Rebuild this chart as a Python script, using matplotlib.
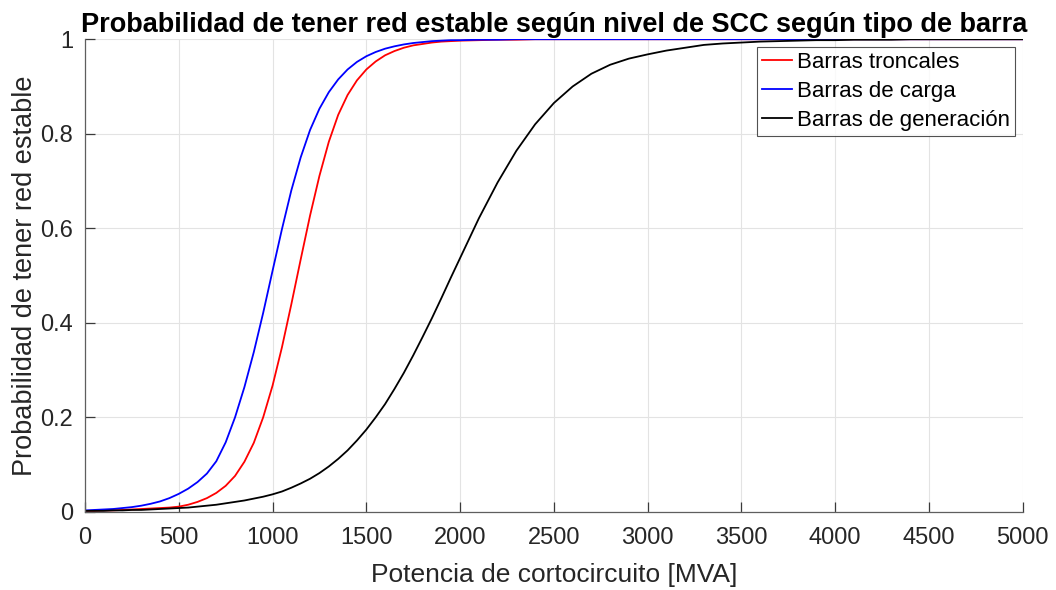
import numpy as np
import matplotlib.pyplot as plt

# Potencia de cortocircuito [MVA]
scc = [0, 50, 100, 150, 200, 250, 300, 350, 400, 450,
       500, 550, 600, 650, 700, 750, 800, 850, 900, 950,
       1000, 1050, 1100, 1150, 1200, 1250, 1300, 1350, 1400, 1450,
       1500, 1550, 1600, 1650, 1700, 1750, 1800, 1850, 1900, 1950,
       2000, 2100, 2200, 2300, 2400, 2500, 2600, 2700, 2800, 2900,
       3000, 3100, 3200, 3300, 3400, 3500, 3600, 3700, 3800, 3900,
       4000, 4100, 4200, 4300, 4400, 4500, 4600, 4700, 4800, 4900,
       5000]

# Probabilidad de red estable por tipo de barra
p_troncales = [0.002, 0.002, 0.003, 0.003, 0.004, 0.005, 0.006, 0.007, 0.008, 0.009,
               0.011, 0.015, 0.021, 0.029, 0.040, 0.055, 0.076, 0.106, 0.146, 0.200,
               0.267, 0.348, 0.439, 0.534, 0.627, 0.711, 0.783, 0.840, 0.882, 0.913,
               0.936, 0.953, 0.966, 0.975, 0.982, 0.987, 0.990, 0.993, 0.995, 0.996,
               0.997, 0.998, 0.999, 0.999, 1.000, 1.000, 1.000, 1.000, 1.000, 1.000,
               1.000, 1.000, 1.000, 1.000, 1.000, 1.000, 1.000, 1.000, 1.000, 1.000,
               1.000, 1.000, 1.000, 1.000, 1.000, 1.000, 1.000, 1.000, 1.000, 1.000,
               1.000]

p_carga = [0.003, 0.004, 0.005, 0.006, 0.008, 0.010, 0.013, 0.017, 0.022, 0.029,
           0.038, 0.049, 0.063, 0.081, 0.107, 0.147, 0.200, 0.264, 0.338, 0.421,
           0.510, 0.598, 0.680, 0.750, 0.808, 0.853, 0.888, 0.915, 0.936, 0.952,
           0.964, 0.973, 0.980, 0.985, 0.989, 0.992, 0.994, 0.996, 0.997, 0.998,
           0.998, 0.999, 0.999, 1.000, 1.000, 1.000, 1.000, 1.000, 1.000, 1.000,
           1.000, 1.000, 1.000, 1.000, 1.000, 1.000, 1.000, 1.000, 1.000, 1.000,
           1.000, 1.000, 1.000, 1.000, 1.000, 1.000, 1.000, 1.000, 1.000, 1.000,
           1.000]

p_generacion = [0.002, 0.002, 0.002, 0.003, 0.003, 0.004, 0.004, 0.005, 0.006, 0.007,
                0.008, 0.009, 0.011, 0.013, 0.015, 0.018, 0.021, 0.024, 0.028, 0.032,
                0.037, 0.043, 0.051, 0.060, 0.070, 0.082, 0.096, 0.112, 0.130, 0.151,
                0.174, 0.200, 0.228, 0.260, 0.294, 0.331, 0.370, 0.410, 0.452, 0.495,
                0.537, 0.621, 0.697, 0.764, 0.820, 0.865, 0.900, 0.927, 0.946, 0.959,
                0.968, 0.976, 0.982, 0.988, 0.991, 0.993, 0.995, 0.996, 0.997, 0.998,
                0.998, 0.999, 0.999, 0.999, 1.000, 1.000, 1.000, 1.000, 1.000, 1.000,
                1.000]

etiquetas = ['Barras troncales', 'Barras de carga', 'Barras de generación']
xticks = list(range(0, 5001, 500))
yticks = [0, 0.2, 0.4, 0.6, 0.8, 1]
ytick_labels = ['0', '0.2', '0.4', '0.6', '0.8', '1']

plt.rcParams['font.family'] = ['Liberation Sans', 'DejaVu Sans']

fig = plt.figure(figsize=(10.56, 5.9), dpi=100)
ax = fig.add_axes([0.0805, 0.1325, 0.888, 0.801])

ax.plot(scc, p_troncales, color='red', lw=1.3, label=etiquetas[0])
ax.plot(scc, p_carga, color='blue', lw=1.3, label=etiquetas[1])
ax.plot(scc, p_generacion, color='black', lw=1.3, label=etiquetas[2])

ax.set_xlim(0, 5000)
ax.set_ylim(0, 1)
ax.set_xticks(xticks)
ax.set_yticks(yticks)
ax.set_yticklabels(ytick_labels)

# estilo de ejes sin caja, ticks hacia adentro
ax.spines['top'].set_visible(False)
ax.spines['right'].set_visible(False)
for s in ['left', 'bottom']:
    ax.spines[s].set_color('#5f5f5f')
    ax.spines[s].set_linewidth(0.9)
ax.tick_params(direction='in', length=7, width=0.9, color='#3a3a3a',
               labelsize=17, labelcolor='#262626')
ax.tick_params(axis='x', pad=11)
ax.tick_params(axis='y', pad=8.5)
ax.grid(True, color='#e3e3e3', lw=0.8)
ax.set_axisbelow(True)

ax.set_xlabel('Potencia de cortocircuito [MVA]', fontsize=19, color='#262626', labelpad=10)
ax.set_ylabel('Probabilidad de tener red estable', fontsize=19.5, color='#262626', labelpad=2)
ax.set_title('Probabilidad de tener red estable según nivel de SCC según tipo de barra',
             fontsize=19.5, fontweight='bold', pad=5)

leg = ax.legend(loc='upper right', fontsize=16, frameon=True, fancybox=False,
                edgecolor='#262626', handlelength=1.35, handletextpad=0.2,
                labelspacing=0.35, borderpad=0.25, borderaxespad=0.33)
leg.get_frame().set_linewidth(0.8)

fig.savefig('out.png', dpi=100)
